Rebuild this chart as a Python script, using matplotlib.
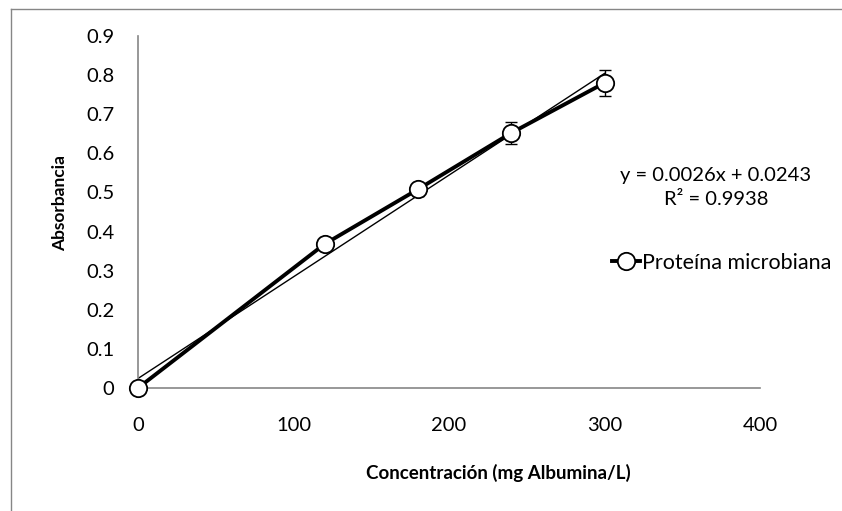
import matplotlib
matplotlib.use("Agg")
import matplotlib.pyplot as plt
from matplotlib.lines import Line2D
import numpy as np

plt.rcParams['font.family'] = ['Lato', 'DejaVu Sans']

conc = [0, 120, 180, 240, 300]
absorb = [0.0, 0.368, 0.508, 0.652, 0.780]
err = [0.0, 0.006, 0.016, 0.028, 0.034]
slope = 0.0026
intercept = 0.0243
eq_text = "y = 0.0026x + 0.0243"
r2_text = "R² = 0.9938"
series_name = "Proteína microbiana"
xticks = [0, 100, 200, 300, 400]
yticks = [0, 0.1, 0.2, 0.3, 0.4, 0.5, 0.6, 0.7, 0.8, 0.9]
ytick_labels = ["0", "0.1", "0.2", "0.3", "0.4", "0.5", "0.6", "0.7", "0.8", "0.9"]

fig = plt.figure(figsize=(8.42, 5.11), dpi=100)
ax = fig.add_axes([138/842, 1-388/511, (760-138)/842, (388-36)/511])

gray = '#868686'
# outer chart border (left & top visible)
fig.add_artist(Line2D([11/842, 11/842], [0, 1-9/511], color=gray, lw=1.0, transform=fig.transFigure))
fig.add_artist(Line2D([11/842, 1], [1-9/511, 1-9/511], color=gray, lw=1.0, transform=fig.transFigure))

# trendline
xt = np.array([conc[0], conc[-1]])
ax.plot(xt, slope*xt + intercept, color='black', lw=1.0, zorder=2)

# error bars
ax.errorbar(conc, absorb, yerr=err, fmt='none', ecolor='black', elinewidth=1.0,
            capsize=4, capthick=1.0, zorder=3)
# data series
ax.plot(conc, absorb, color='black', lw=2.8, marker='o', markersize=12.5,
        markerfacecolor='white', markeredgecolor='black', markeredgewidth=1.3,
        zorder=4, label=series_name, clip_on=False)

ax.set_xlim(0, 400)
ax.set_ylim(0, 0.9)
ax.set_xticks(xticks)
ax.set_xticklabels([str(v) for v in xticks])
ax.set_yticks(yticks)
ax.set_yticklabels(ytick_labels)
ax.tick_params(length=0, labelsize=14.5, pad=0)
ax.tick_params(axis='x', pad=21)
ax.tick_params(axis='y', pad=17)
for s in ['top', 'right']:
    ax.spines[s].set_visible(False)
for s in ['left', 'bottom']:
    ax.spines[s].set_color(gray)
    ax.spines[s].set_linewidth(1.2)

fig.text(498/842, 1-473/511, "Concentración (mg Albumina/L)", fontsize=13.5, fontweight='bold',
         ha='center', va='center')
fig.text(60/842, 1-203/511, "Absorbancia", fontsize=12.5, fontweight='bold',
         ha='center', va='center', rotation=90)

fig.text(716/842, 1-176/511, eq_text, ha='center', va='center', fontsize=14.5)
fig.text(716/842, 1-199/511, r2_text, ha='center', va='center', fontsize=14.5)

leg = ax.legend(loc='center left', bbox_to_anchor=(612/842, 1-263/511), bbox_transform=fig.transFigure,
                frameon=False, fontsize=15.5, handlelength=1.3, handletextpad=0.1, borderaxespad=0,
                borderpad=0)

fig.savefig("out.png", dpi=100)
